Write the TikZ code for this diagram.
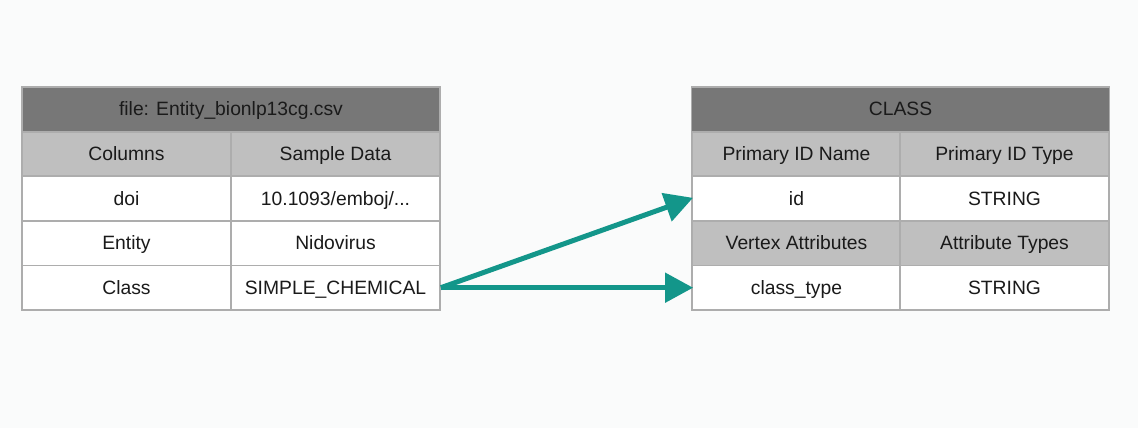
\documentclass[tikz,border=0pt]{standalone}
\usepackage{fontspec}
\setmainfont{Liberation Sans}
\usetikzlibrary{arrows.meta}
\definecolor{bgc}{HTML}{FAFBFB}
\definecolor{hdr}{HTML}{777777}
\definecolor{sub}{HTML}{BFBFBF}
\definecolor{brd}{HTML}{ADADAD}
\definecolor{teal}{HTML}{13968A}
\definecolor{txt}{HTML}{1A1A1A}
\tikzset{
  cell/.style={draw=brd, line width=1.8pt, minimum height=44.6pt, inner sep=0pt, text=txt, font=\fontsize{19.3}{22}\selectfont, text height=14pt, text depth=1pt, anchor=center},
  half/.style={cell, minimum width=209pt},
  full/.style={cell, minimum width=418pt, fill=hdr},
  subc/.style={half, fill=sub},
  valc/.style={half, fill=white},
  conn/.style={draw=teal, line width=5pt, -{Triangle[length=28pt,width=29pt]}, shorten >=-2pt}
}
\begin{document}
\begin{tikzpicture}[x=1pt,y=-1pt]
\useasboundingbox[fill=bgc] (0,0) rectangle (1138,428);
% left table
\node[full] (lh) at (231,109.3) {file: Entity\_bionlp13cg.csv};
\node[subc] (l1a) at (126.5,153.9) {Columns};
\node[subc] (l1b) at (335.5,153.9) {Sample Data};
\node[valc] (l2a) at (126.5,198.5) {doi};
\node[valc] (l2b) at (335.5,198.5) {10.1093/emboj/...};
\node[valc] (l3a) at (126.5,243.1) {Entity};
\node[valc] (l3b) at (335.5,243.1) {Nidovirus};
\node[valc] (l4a) at (126.5,287.7) {Class};
\node[valc] (l4b) at (335.5,287.7) {SIMPLE\_CHEMICAL};
% right table
\node[full] (rh) at (900.5,109.3) {CLASS};
\node[subc] (r1a) at (796.5,153.9) {Primary ID Name};
\node[subc] (r1b) at (1004.5,153.9) {Primary ID Type};
\node[valc] (r2a) at (796.5,198.5) {id};
\node[valc] (r2b) at (1004.5,198.5) {STRING};
\node[subc] (r3a) at (796.5,243.1) {Vertex Attributes};
\node[subc] (r3b) at (1004.5,243.1) {Attribute Types};
\node[valc] (r4a) at (796.5,287.7) {class\_type};
\node[valc] (r4b) at (1004.5,287.7) {STRING};
% connectors
\draw[conn] (l4b.east) -- (r2a.west);
\draw[conn] (l4b.east) -- (r4a.west);
\end{tikzpicture}
\end{document}
